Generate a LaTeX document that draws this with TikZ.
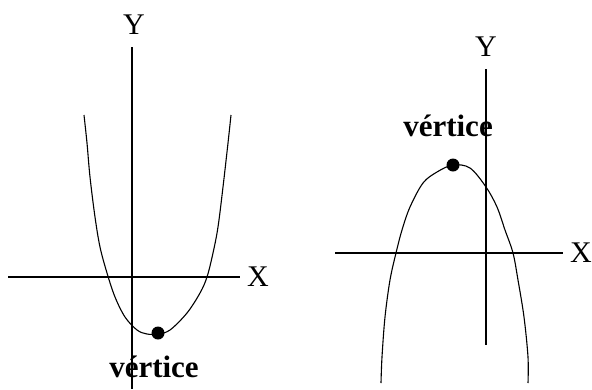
\documentclass[tikz,border=0pt]{standalone}
\usepackage{fontspec}
\setmainfont{Liberation Serif}
\usetikzlibrary{positioning}

\begin{document}
\begin{tikzpicture}[x=1pt, y=-1pt,
    every node/.style={font=\fontsize{30}{32}\selectfont},
    eixo/.style={line width=1.2pt},
    curva/.style={line width=1.1pt},
    rotulo/.style={font=\fontsize{31}{32}\selectfont\bfseries},
    ponto/.style={circle, fill, inner sep=0pt, minimum size=13pt}]
\useasboundingbox (0,0) rectangle (592,389);

% Parábola aberta para cima
\coordinate (ya1) at (132,47);
\coordinate (yb1) at (132,389);
\coordinate (xa1) at (8,277);
\coordinate (xb1) at (240,277);
\node[rotulo] (vert1) at (154,367) {vértice};
\draw[eixo] (ya1) -- (yb1);
\draw[eixo] (xa1) -- (xb1);
\node (Y1) at (134,25) {Y};
\node (X1) at (258,277) {X};
\draw[curva] plot[smooth, tension=0.55] coordinates {
    (84,115) (87,143) (90,177) (95,217) (100,247) (107,273) (115,297)
    (125,317) (137,330) (147,334) (158,334) (170,330) (187,313)
    (200,293) (207,277) (213,253) (218,227) (223,187) (228,143) (231,115)};
\node[ponto] (p1) at (158,333) {};

% Parábola aberta para baixo
\coordinate (ya2) at (486,69);
\coordinate (yb2) at (486,345);
\coordinate (xa2) at (335,253);
\coordinate (xb2) at (563,253);
\node[rotulo] (vert2) at (448,126) {vértice};
\draw[eixo] (ya2) -- (yb2);
\draw[eixo] (xa2) -- (xb2);
\node (Y2) at (486,47) {Y};
\node (X2) at (581,253) {X};
\draw[curva] plot[smooth, tension=0.55] coordinates {
    (381,383) (382,357) (385,317) (390,280) (396,253) (402,230) (410,207)
    (423,183) (437,172) (453,165) (470,168) (486,187) (497,207)
    (505,230) (513,253) (518,280) (524,317) (528,357) (528,383)};
\node[ponto] (p2) at (453,165) {};

\end{tikzpicture}
\end{document}
